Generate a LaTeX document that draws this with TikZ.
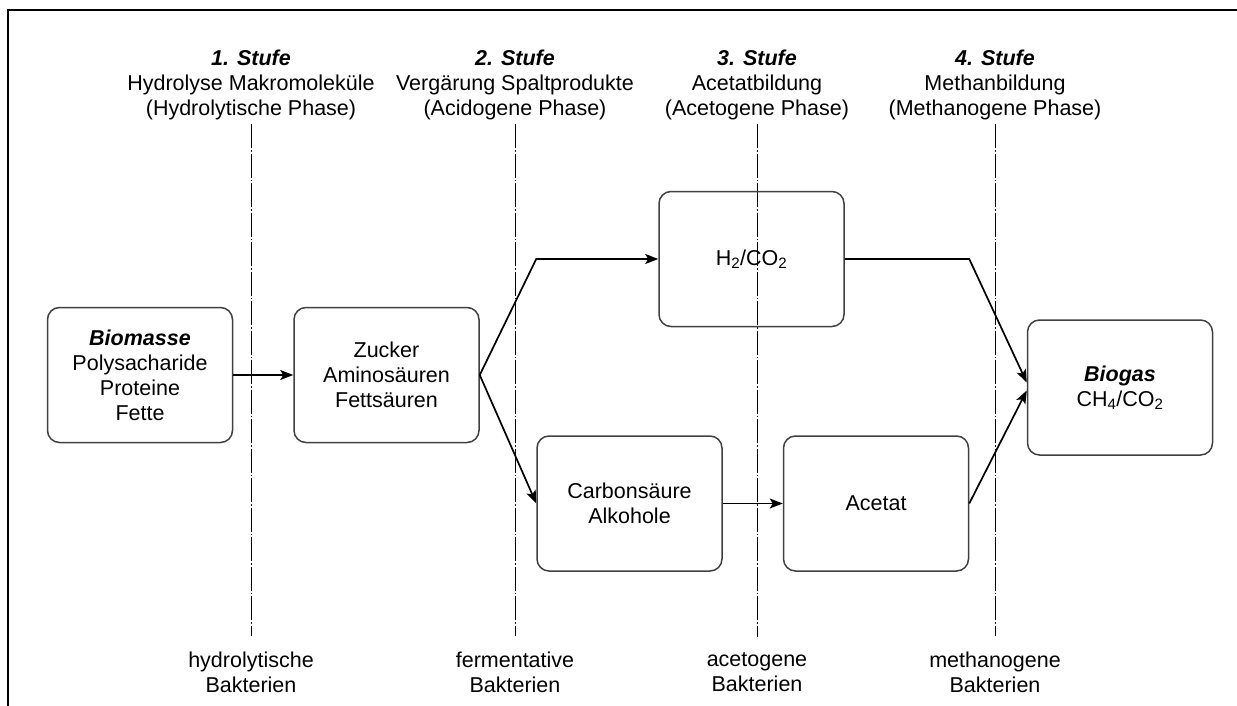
\documentclass[tikz,border=0pt]{standalone}
\usepackage{fontspec}
\setmainfont{Liberation Sans}
\usepackage{tikz}
\usetikzlibrary{arrows.meta,positioning,calc}

\begin{document}
\begin{tikzpicture}[x=1pt,y=-1pt,
  every node/.style={font=\fontsize{21.5}{25}\selectfont,align=center},
  stage/.style={inner sep=0pt},
  box/.style={draw=black!75,line width=1.5pt,rounded corners=12pt,
    minimum width=185pt,minimum height=135pt,inner sep=0pt},
  arr/.style={-{Stealth[length=13pt,width=10pt,inset=3pt]},line width=1.7pt},
  sep/.style={line width=0.8pt,dash pattern=on 24pt off 2pt on 1.5pt off 2pt}]
\useasboundingbox (0,0) rectangle (1237,706);
\draw[line width=2pt] (8,706) -- (8,10) -- (1237,10);
% Stufen oben
\node[stage] (h1) at (251,85) {\textbf{\textit{1. Stufe}}\\Hydrolyse Makromoleküle\\(Hydrolytische Phase)};
\node[stage] (h2) at (515,85) {\textbf{\textit{2. Stufe}}\\Vergärung Spaltprodukte\\(Acidogene Phase)};
\node[stage] (h3) at (757,85) {\textbf{\textit{3. Stufe}}\\Acetatbildung\\(Acetogene Phase)};
\node[stage] (h4) at (995,85) {\textbf{\textit{4. Stufe}}\\Methanbildung\\(Methanogene Phase)};
% Bakterien unten
\node[stage] (b1) at (251,672) {hydrolytische\\Bakterien};
\node[stage] (b2) at (515,672) {fermentative\\Bakterien};
\node[stage] (b3) at (757,672) {acetogene\\Bakterien};
\node[stage] (b4) at (995,672) {methanogene\\Bakterien};
\draw[sep] ([yshift=-4pt]h1.south) -- ([yshift=15pt]b1.north);
\draw[sep] ([yshift=-4pt]h2.south) -- ([yshift=15pt]b2.north);
\draw[sep] ([yshift=-4pt]h3.south) -- ([yshift=15pt]b3.north);
\draw[sep] ([yshift=-4pt]h4.south) -- ([yshift=15pt]b4.north);
% Stoffe
\node[box] (bio) at (140,375) {\textbf{\textit{Biomasse}}\\Polysacharide\\Proteine\\Fette};
\node[box,right=60pt of bio] (zuc) {Zucker\\Aminosäuren\\Fettsäuren};
\node[box] (h2co) at (751.5,259) {H\textsubscript{2}/CO\textsubscript{2}};
\node[box] (carb) at (629.5,503.5) {Carbonsäure\\Alkohole};
\node[box,right=60pt of carb] (ace) {Acetat};
\node[box] (gas) at (1120,387.5) {\textbf{\textit{Biogas}}\\CH\textsubscript{4}/CO\textsubscript{2}};
\draw[arr] (bio) -- (zuc);
\draw[arr] (zuc.east) -- (carb.west |- h2co.west) -- (h2co.west);
\draw[arr] (zuc.east) -- (carb.west);
\draw[arr] (carb) -- (ace);
\draw[arr] (h2co.east) -- (ace.east |- h2co.east) -- ([yshift=5pt]gas.west);
\draw[arr] (ace.east) -- ([yshift=-3pt]gas.west);
\end{tikzpicture}
\end{document}
